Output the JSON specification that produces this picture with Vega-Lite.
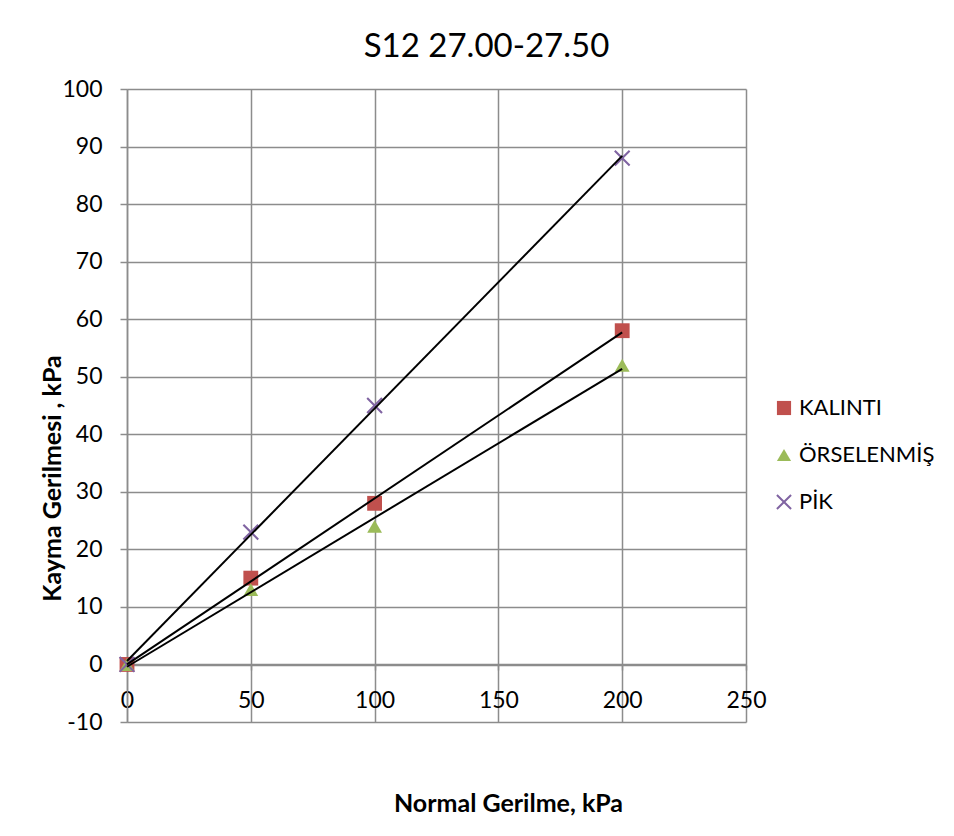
{
  "$schema": "https://vega.github.io/schema/vega-lite/v6.json",
  "width": 619,
  "height": 633,
  "autosize": {"type": "none"},
  "padding": {"left": 127, "top": 89, "right": 208, "bottom": 114},
  "background": "white",
  "title": {"text": "S12 27.00-27.50", "fontSize": 33, "font": "Lato", "fontWeight": "normal", "color": "black", "anchor": "middle", "dx": 50, "offset": 14},
  "data": {"values": [
    {"series": "KALINTI", "normal": 0, "shear": 0},
    {"series": "KALINTI", "normal": 50, "shear": 15},
    {"series": "KALINTI", "normal": 100, "shear": 28},
    {"series": "KALINTI", "normal": 200, "shear": 58},
    {"series": "ÖRSELENMİŞ", "normal": 0, "shear": 0},
    {"series": "ÖRSELENMİŞ", "normal": 50, "shear": 13},
    {"series": "ÖRSELENMİŞ", "normal": 100, "shear": 24},
    {"series": "ÖRSELENMİŞ", "normal": 200, "shear": 52},
    {"series": "PİK", "normal": 0, "shear": 0},
    {"series": "PİK", "normal": 50, "shear": 23},
    {"series": "PİK", "normal": 100, "shear": 45},
    {"series": "PİK", "normal": 200, "shear": 88}
  ]},
  "layer": [
    {
      "mark": {"type": "point", "filled": true, "opacity": 1, "size": 220, "strokeWidth": 0},
      "encoding": {
        "x": {"field": "normal", "type": "quantitative", "scale": {"domain": [0, 250], "nice": false},
          "axis": {"title": "Normal Gerilme, kPa", "values": [0, 50, 100, 150, 200, 250], "offset": -57, "tickSize": 5, "labelPadding": 19, "labelFlush": false,
            "labelExpr": "'' + datum.value",
            "titleX": 381, "titleY": 138, "titleBaseline": "middle", "titleAlign": "center"}},
        "y": {"field": "shear", "type": "quantitative", "scale": {"domain": [-10, 100], "nice": false},
          "axis": {"title": "Kayma Gerilmesi , kPa", "values": [-10, 0, 10, 20, 30, 40, 50, 60, 70, 80, 90, 100], "tickSize": 7, "labelPadding": 18,
            "labelExpr": "'' + datum.value",
            "titleX": -75, "titleY": 389, "titleAngle": -90, "titleBaseline": "middle", "titleAlign": "center"}},
        "color": {"field": "series", "type": "nominal",
          "scale": {"domain": ["KALINTI", "ÖRSELENMİŞ", "PİK"], "range": ["#C0504D", "#9BBB59", "#8064A2"]},
          "legend": {"title": null}},
        "shape": {"field": "series", "type": "nominal",
          "scale": {"domain": ["KALINTI", "ÖRSELENMİŞ", "PİK"], "range": ["square", "triangle-up", "M-0.9,-1.1L1.1,0.9L0.9,1.1L-1.1,-0.9ZM-1.1,0.9L0.9,-1.1L1.1,-0.9L-0.9,1.1Z"]},
          "legend": {"title": null}}
      }
    },
    {
      "transform": [{"regression": "shear", "on": "normal", "groupby": ["series"], "extent": [0, 200]}],
      "mark": {"type": "line", "color": "black", "strokeWidth": 2},
      "encoding": {
        "x": {"field": "normal", "type": "quantitative"},
        "y": {"field": "shear", "type": "quantitative"},
        "detail": {"field": "series"}
      }
    }
  ],
  "config": {
    "font": "Lato",
    "view": {"stroke": null},
    "axis": {
      "grid": true, "gridColor": "#8c8c8c", "gridWidth": 1.5,
      "domainColor": "#8c8c8c", "domainWidth": 1.5,
      "tickColor": "#8c8c8c", "tickWidth": 1.5,
      "labelFont": "Lato", "labelFontSize": 23, "labelColor": "black",
      "titleFont": "Lato", "titleFontSize": 25, "titleFontWeight": "bold", "titleColor": "black"
    },
    "legend": {
      "orient": "none", "legendX": 646, "legendY": 308,
      "labelFont": "Lato", "labelFontSize": 22, "labelColor": "black",
      "symbolSize": 200, "rowPadding": 25, "labelOffset": 4, "padding": 0, "symbolStrokeWidth": 0
    }
  }
}
